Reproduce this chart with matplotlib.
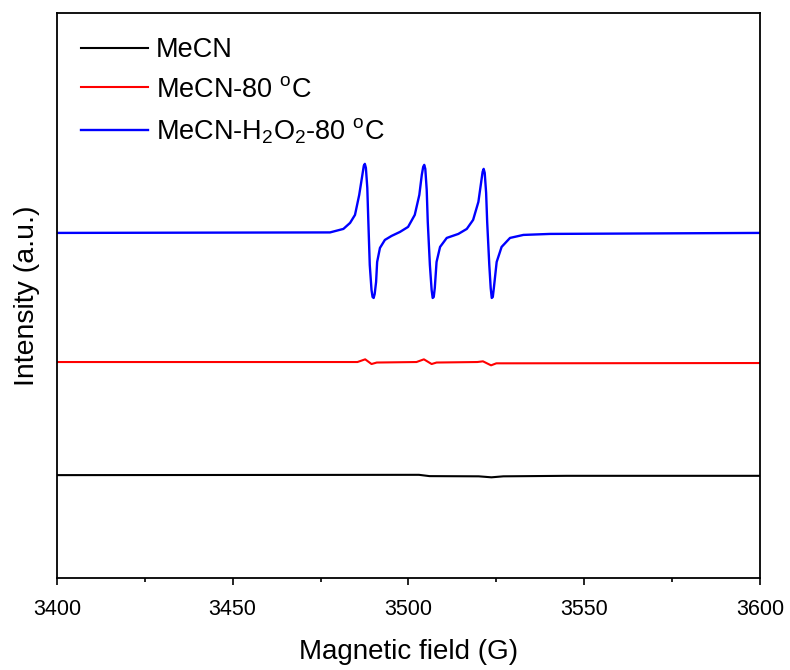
import matplotlib
matplotlib.use("Agg")
import matplotlib.pyplot as plt
from matplotlib.ticker import MultipleLocator

plt.rcParams["font.family"] = ["Liberation Sans", "DejaVu Sans"]
plt.rcParams["mathtext.default"] = "regular"

# field (G) and intensity (a.u., offset per trace)
field_blue = [3400, 3477.7, 3481.5, 3483.4, 3484.8, 3486.0, 3486.9, 3487.3, 3487.6, 3487.9,
              3488.3, 3488.6, 3489.0, 3489.5, 3489.8, 3490.1, 3490.4, 3490.8, 3491.1,
              3491.9, 3493.3, 3495.2, 3497.6, 3499.9, 3501.8, 3503.1, 3503.8, 3504.2,
              3504.5, 3504.8, 3505.2, 3505.5, 3506.1, 3506.6, 3506.9, 3507.2, 3507.5,
              3508.0, 3509.0, 3510.9, 3514.2, 3516.6, 3518.4, 3519.9, 3520.7, 3521.1,
              3521.4, 3521.7, 3522.1, 3522.4, 3523.0, 3523.4, 3523.7, 3524.0, 3524.3,
              3525.1, 3526.5, 3528.9, 3532.7, 3540.3, 3600]
int_blue = [345, 345.5, 349, 355, 363, 383, 403, 412, 414, 410,
            390, 356, 313, 288, 281, 280, 284, 296, 316,
            330, 338, 342, 346, 351, 363, 383, 403, 411,
            413, 409, 388, 356, 313, 288, 280, 281, 290,
            316, 331, 340, 344, 349, 358, 376, 396, 406,
            409, 405, 385, 356, 313, 290, 280, 281, 290,
            316, 331, 340, 343, 344, 345]

field_red = [3400, 3485.5, 3487.7, 3489.5, 3491.0, 3502.3, 3504.4, 3506.6, 3508.0,
             3519.6, 3521.2, 3523.5, 3525.0, 3600]
int_red = [216, 216, 218.7, 214, 215.5, 216, 218.7, 214, 215.5,
           216, 216.7, 212.7, 214.7, 215]

field_black = [3400, 3470, 3503, 3506, 3520, 3523.6, 3527, 3545, 3600]
int_black = [103, 103.2, 103.3, 102, 101.8, 100.8, 101.8, 102.3, 102.3]

labels = ["MeCN", "MeCN-80 $^{o}$C", "MeCN-H$_2$O$_2$-80 $^{o}$C"]
colors = ["black", "#ff0000", "#0000ff"]

fig = plt.figure(figsize=(7.9, 6.7), dpi=100)
ax = fig.add_axes([0.072, 0.137, 0.89, 0.844])

ax.plot(field_black, int_black, color=colors[0], lw=1.5, label=labels[0])
ax.plot(field_red, int_red, color=colors[1], lw=1.5, label=labels[1])
ax.plot(field_blue, int_blue, color=colors[2], lw=1.7, label=labels[2])

ax.set_xlim(3400, 3600)
ax.set_ylim(0, 565)
ax.xaxis.set_major_locator(MultipleLocator(50))
ax.xaxis.set_minor_locator(MultipleLocator(25))
ax.set_yticks([])
ax.tick_params(axis="x", which="major", direction="out", length=5, width=1.2,
               labelsize=15.5, pad=10)
ax.tick_params(axis="x", which="minor", direction="out", length=3, width=1.2)
for s in ax.spines.values():
    s.set_linewidth(1.3)

ax.set_xlabel("Magnetic field (G)", fontsize=20, labelpad=14)
ax.set_ylabel("Intensity (a.u.)", fontsize=20.5, labelpad=12)

ax.legend(loc="upper left", frameon=False, fontsize=19.5, handlelength=2.45,
          handletextpad=0.3, labelspacing=0.5, borderaxespad=0.5,
          bbox_to_anchor=(0.0, 1.0))

fig.savefig("out.png", dpi=100)
